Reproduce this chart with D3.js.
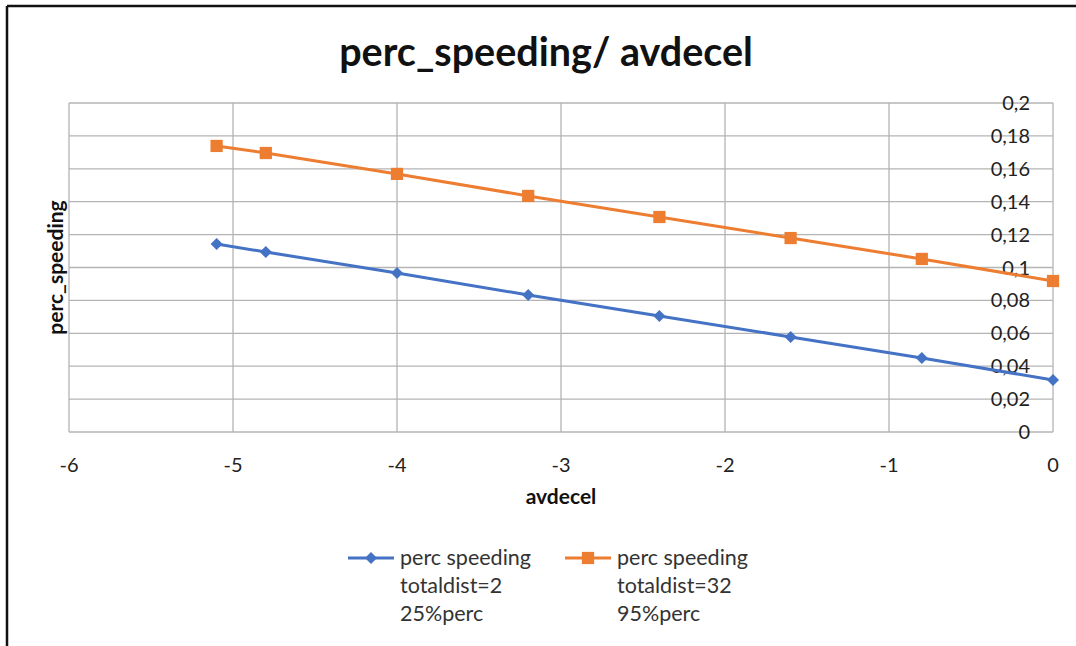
<!DOCTYPE html>
<html>
<head>
<meta charset="utf-8">
<script src="https://cdn.jsdelivr.net/npm/d3@7"></script>
<style>
  body { margin: 0; background: #fff; }
  svg { display: block; font-family: Lato, "Open Sans", sans-serif; }
</style>
</head>
<body>
<script>
const avdecel = [-5.1, -4.8, -4.0, -3.2, -2.4, -1.6, -0.8, 0];
const perc25 = [0.1143, 0.1094, 0.0967, 0.0833, 0.0705, 0.0578, 0.045, 0.0316];
const perc95 = [0.1739, 0.1696, 0.1569, 0.1435, 0.1307, 0.1179, 0.1052, 0.0918];
const xTicks = [-6, -5, -4, -3, -2, -1, 0];
const yTicks = [0, 0.02, 0.04, 0.06, 0.08, 0.1, 0.12, 0.14, 0.16, 0.18, 0.2];
const seriesNames = [
  ["perc speeding", "totaldist=2", "25%perc"],
  ["perc speeding", "totaldist=32", "95%perc"]
];
const colors = ["#4472c4", "#ed7d31"];

const w = 1076, h = 646;
const plotL = 69, plotR = 1053, plotT = 103, plotB = 432;

const svg = d3.select("body").append("svg")
  .attr("width", w).attr("height", h);

// outer frame (only top and left edges visible)
svg.append("line").attr("x1", 7).attr("x2", w).attr("y1", 6).attr("y2", 6)
  .attr("stroke", "#111").attr("stroke-width", 2.5);
svg.append("line").attr("x1", 7).attr("x2", 7).attr("y1", 6).attr("y2", h)
  .attr("stroke", "#111").attr("stroke-width", 2.5);

const x = d3.scaleLinear().domain([-6, 0]).range([plotL, plotR]);
const y = d3.scaleLinear().domain([0, 0.2]).range([plotB, plotT]);

// grid
svg.append("g").selectAll("line").data(yTicks).join("line")
  .attr("x1", plotL).attr("x2", plotR)
  .attr("y1", d => y(d)).attr("y2", d => y(d))
  .attr("stroke", "#b4b4b4").attr("stroke-width", 1.3);
svg.append("g").selectAll("line").data(xTicks).join("line")
  .attr("x1", d => x(d)).attr("x2", d => x(d))
  .attr("y1", plotT).attr("y2", plotB)
  .attr("stroke", "#b4b4b4").attr("stroke-width", 1.3);

// x axis labels
const fmtY = d => String(+d.toFixed(2)).replace(".", ",");
svg.append("g").selectAll("text").data(xTicks).join("text")
  .attr("x", d => x(d)).attr("y", 472)
  .attr("text-anchor", "middle")
  .attr("font-size", 20).attr("fill", "#222")
  .text(d => d);

// y labels sit left of the axis at x=0
svg.append("g").selectAll("text").data(yTicks).join("text")
  .attr("x", x(0) - 23).attr("y", d => y(d) + 7)
  .attr("text-anchor", "end")
  .attr("font-size", 20).attr("fill", "#222")
  .text(fmtY);

// titles
svg.append("text").attr("x", 546).attr("y", 66)
  .attr("text-anchor", "middle").attr("font-size", 39.5).attr("font-weight", "bold")
  .attr("fill", "#111")
  .text("perc_speeding/ avdecel");
svg.append("text").attr("x", 561).attr("y", 504)
  .attr("text-anchor", "middle").attr("font-size", 21).attr("font-weight", "bold")
  .attr("fill", "#111").text("avdecel");
svg.append("text")
  .attr("transform", `translate(63,${(plotT + plotB) / 2}) rotate(-90)`)
  .attr("text-anchor", "middle").attr("font-size", 21).attr("font-weight", "bold")
  .attr("fill", "#111").text("perc_speeding");

// series
const line = d3.line().x(d => x(d[0])).y(d => y(d[1]));
const data = [perc25, perc95].map(s => avdecel.map((v, i) => [v, s[i]]));

const diamond = d3.symbol().type(d3.symbolSquare).size(72);
const square = d3.symbol().type(d3.symbolSquare).size(150);
const rot = k => (k === 0 ? " rotate(45)" : "");

data.forEach((pts, k) => {
  svg.append("path").datum(pts)
    .attr("d", line).attr("fill", "none")
    .attr("stroke", colors[k]).attr("stroke-width", 3);
  svg.append("g").selectAll("path").data(pts).join("path")
    .attr("transform", d => `translate(${x(d[0])},${y(d[1])})${rot(k)}`)
    .attr("d", k === 0 ? diamond : square)
    .attr("fill", colors[k]);
});

// legend
const legX = [348, 565];
seriesNames.forEach((names, k) => {
  const g = svg.append("g").attr("transform", `translate(${legX[k]},558)`);
  g.append("line").attr("x1", 0).attr("x2", 46).attr("y1", 0).attr("y2", 0)
    .attr("stroke", colors[k]).attr("stroke-width", 3);
  g.append("path").attr("transform", `translate(23,0)${rot(k)}`)
    .attr("d", k === 0 ? diamond : square).attr("fill", colors[k]);
  g.selectAll("text").data(names).join("text")
    .attr("x", 52).attr("y", (d, i) => 7 + i * 28)
    .attr("font-size", 21.5).attr("fill", "#333")
    .text(d => d);
});
</script>
</body>
</html>
